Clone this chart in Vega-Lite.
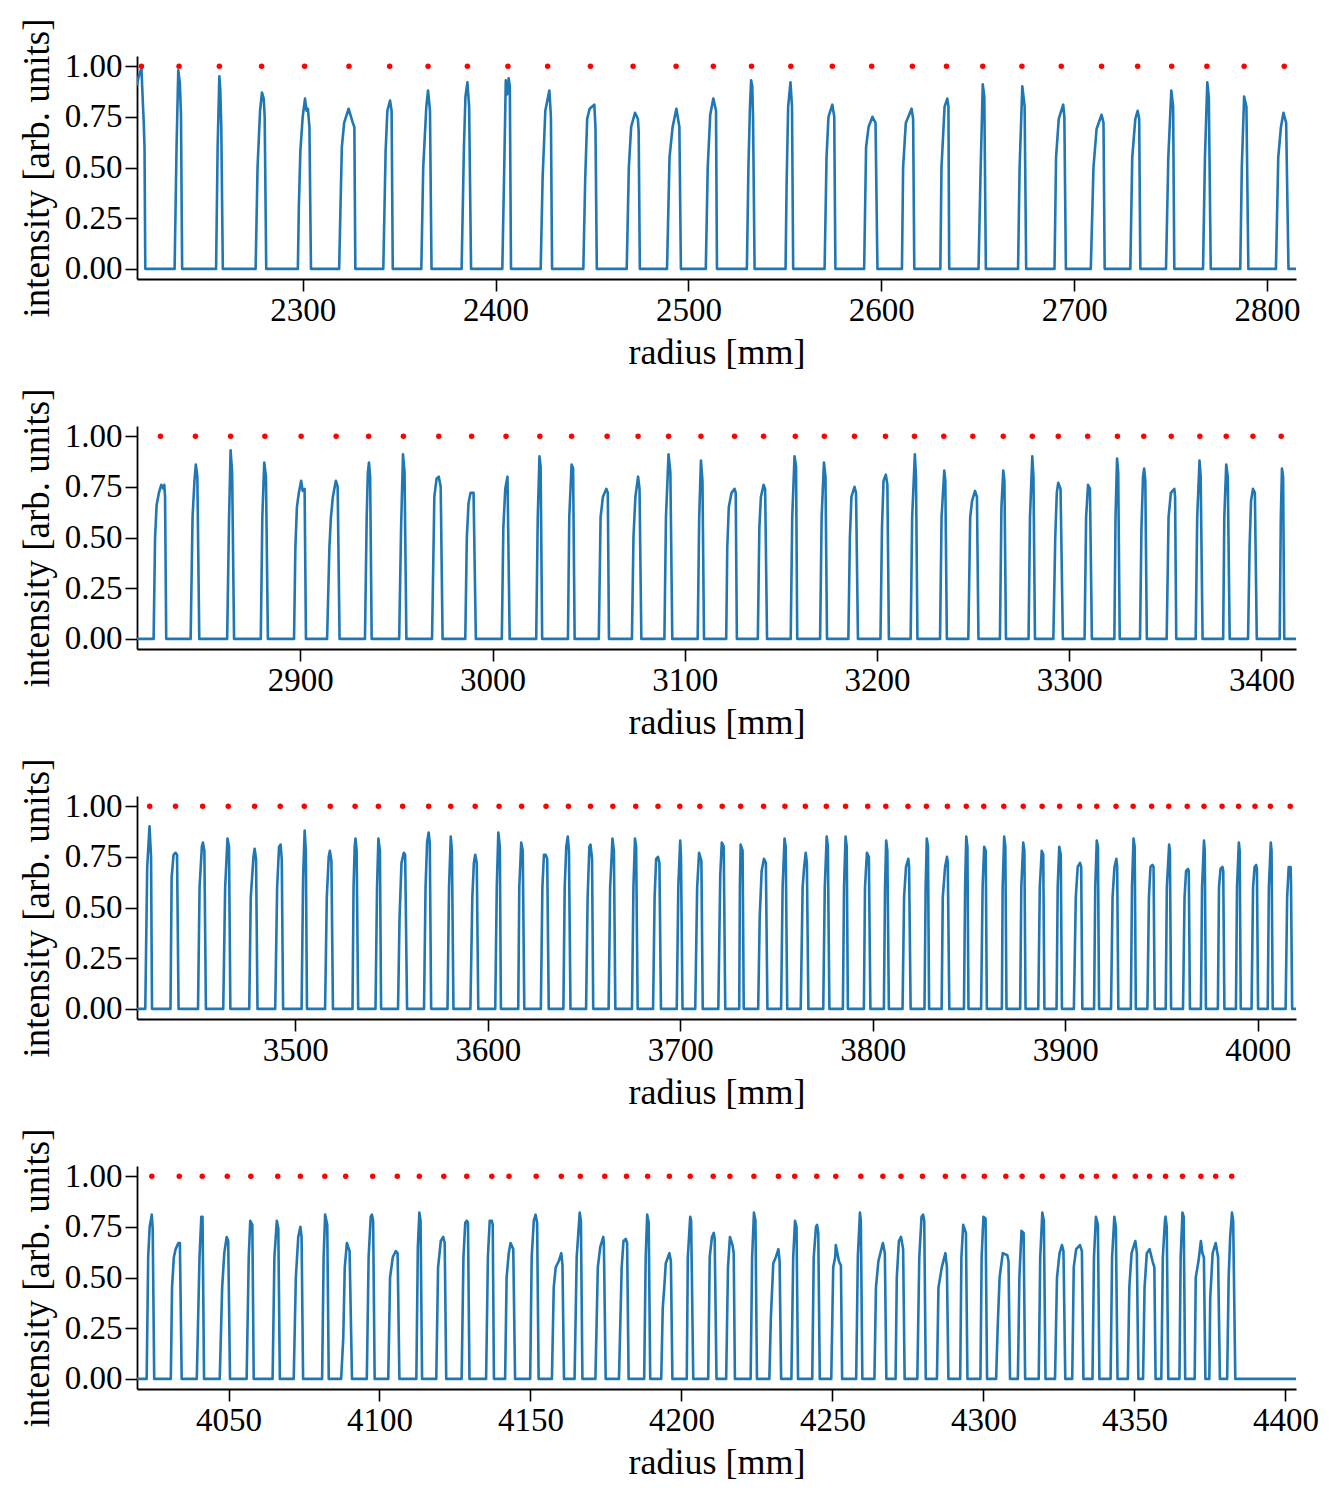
{
  "$schema": "https://vega.github.io/schema/vega-lite/v6.json",
  "background": "white",
  "padding": {"left": 18, "top": 17, "right": 10, "bottom": 10},
  "spacing": 147,
  "bounds": "flush",
  "config": {
    "view": {"stroke": null},
    "font": "Liberation Serif",
    "axis": {
      "labelFont": "Liberation Serif",
      "titleFont": "Liberation Serif",
      "labelFontSize": 33,
      "titleFontSize": 36,
      "titleFontWeight": "normal",
      "labelColor": "black",
      "titleColor": "black",
      "domainColor": "black",
      "tickColor": "black",
      "domainWidth": 1.8,
      "tickWidth": 1.6,
      "tickSize": 12,
      "grid": false,
      "labelFlush": false,
      "labelOverlap": false,
      "labelPadding": 3
    },
    "axisX": {"titlePadding": 8},
    "axisY": {"titlePadding": 8, "titleFontSize": 37}
  },
  "datasets": {
    "line1": [
      {"r":2214.1,"v":0.91},{"r":2215.0,"v":0.95},{"r":2216.4,"v":0.99},{"r":2217.0,"v":0.85},{"r":2217.6,"v":0.72},{"r":2218.0,"v":0.6},{"r":2218.4,"v":0},
      {"r":2233.6,"v":0},{"r":2234.6,"v":0.6},{"r":2235.5,"v":0.98},{"r":2236.3,"v":0.92},{"r":2236.9,"v":0.76},{"r":2237.5,"v":0},
      {"r":2255.1,"v":0},{"r":2255.9,"v":0.6},{"r":2256.8,"v":0.95},{"r":2257.3,"v":0.88},{"r":2257.8,"v":0.7},{"r":2258.6,"v":0},
      {"r":2275.6,"v":0},{"r":2276.6,"v":0.5},{"r":2277.9,"v":0.78},{"r":2278.9,"v":0.87},{"r":2279.8,"v":0.84},{"r":2280.3,"v":0.75},{"r":2281.1,"v":0},
      {"r":2297.5,"v":0},{"r":2298.0,"v":0.3},{"r":2298.8,"v":0.58},{"r":2300.0,"v":0.75},{"r":2301.2,"v":0.84},{"r":2302.0,"v":0.78},{"r":2302.7,"v":0.79},{"r":2303.5,"v":0.7},{"r":2304.3,"v":0},
      {"r":2318.9,"v":0},{"r":2320.3,"v":0.6},{"r":2321.5,"v":0.72},{"r":2323.8,"v":0.79},{"r":2326.0,"v":0.72},{"r":2326.8,"v":0.7},{"r":2327.3,"v":0},
      {"r":2341.8,"v":0},{"r":2343.0,"v":0.58},{"r":2343.9,"v":0.78},{"r":2345.3,"v":0.83},{"r":2346.1,"v":0.78},{"r":2346.7,"v":0},
      {"r":2361.5,"v":0},{"r":2362.5,"v":0.5},{"r":2364.1,"v":0.8},{"r":2365.0,"v":0.88},{"r":2366.0,"v":0.78},{"r":2366.8,"v":0},
      {"r":2382.4,"v":0},{"r":2383.6,"v":0.6},{"r":2384.4,"v":0.85},{"r":2385.4,"v":0.92},{"r":2386.3,"v":0.8},{"r":2387.3,"v":0},
      {"r":2403.5,"v":0},{"r":2404.5,"v":0.5},{"r":2405.3,"v":0.93},{"r":2406.0,"v":0.86},{"r":2406.8,"v":0.94},{"r":2407.4,"v":0.9},{"r":2408.0,"v":0},
      {"r":2423.4,"v":0},{"r":2424.4,"v":0.45},{"r":2425.8,"v":0.78},{"r":2427.9,"v":0.88},{"r":2428.7,"v":0.75},{"r":2429.3,"v":0},
      {"r":2445.5,"v":0},{"r":2446.5,"v":0.45},{"r":2447.5,"v":0.74},{"r":2448.8,"v":0.79},{"r":2451.2,"v":0.81},{"r":2451.8,"v":0.7},{"r":2452.5,"v":0},
      {"r":2468.0,"v":0},{"r":2469.1,"v":0.5},{"r":2470.3,"v":0.7},{"r":2472.3,"v":0.77},{"r":2473.8,"v":0.74},{"r":2474.2,"v":0.68},{"r":2474.8,"v":0},
      {"r":2488.9,"v":0},{"r":2490.2,"v":0.55},{"r":2491.8,"v":0.7},{"r":2493.75,"v":0.79},{"r":2495.3,"v":0.7},{"r":2496.1,"v":0},
      {"r":2509.0,"v":0},{"r":2510.0,"v":0.5},{"r":2511.3,"v":0.76},{"r":2512.9,"v":0.84},{"r":2514.3,"v":0.78},{"r":2514.8,"v":0},
      {"r":2530.3,"v":0},{"r":2531.1,"v":0.5},{"r":2531.9,"v":0.8},{"r":2532.5,"v":0.93},{"r":2533.1,"v":0.9},{"r":2533.5,"v":0.75},{"r":2534.3,"v":0},
      {"r":2550.35,"v":0},{"r":2550.9,"v":0.42},{"r":2551.7,"v":0.8},{"r":2552.9,"v":0.92},{"r":2553.7,"v":0.8},{"r":2554.3,"v":0},
      {"r":2570.6,"v":0},{"r":2571.6,"v":0.55},{"r":2572.6,"v":0.75},{"r":2574.6,"v":0.81},{"r":2575.6,"v":0.75},{"r":2576.2,"v":0},
      {"r":2591.1,"v":0},{"r":2592.1,"v":0.6},{"r":2593.4,"v":0.7},{"r":2595.4,"v":0.75},{"r":2597.0,"v":0.72},{"r":2598.0,"v":0},
      {"r":2610.7,"v":0},{"r":2611.3,"v":0.5},{"r":2612.7,"v":0.72},{"r":2615.7,"v":0.79},{"r":2616.5,"v":0.74},{"r":2617.1,"v":0},
      {"r":2630.6,"v":0},{"r":2631.2,"v":0.5},{"r":2632.8,"v":0.8},{"r":2634.2,"v":0.84},{"r":2634.8,"v":0.8},{"r":2635.2,"v":0},
      {"r":2650.4,"v":0},{"r":2651.4,"v":0.45},{"r":2652.6,"v":0.91},{"r":2653.4,"v":0.85},{"r":2654.2,"v":0},
      {"r":2670.9,"v":0},{"r":2671.7,"v":0.5},{"r":2673.1,"v":0.9},{"r":2674.3,"v":0.8},{"r":2675.1,"v":0},
      {"r":2689.8,"v":0},{"r":2690.6,"v":0.55},{"r":2692.0,"v":0.74},{"r":2694.3,"v":0.81},{"r":2694.9,"v":0.75},{"r":2695.7,"v":0},
      {"r":2708.6,"v":0},{"r":2710.0,"v":0.5},{"r":2711.6,"v":0.69},{"r":2714.2,"v":0.76},{"r":2715.2,"v":0.72},{"r":2715.8,"v":0},
      {"r":2729.1,"v":0},{"r":2730.1,"v":0.55},{"r":2731.7,"v":0.74},{"r":2732.9,"v":0.78},{"r":2733.7,"v":0.74},{"r":2734.3,"v":0},
      {"r":2747.6,"v":0},{"r":2748.8,"v":0.55},{"r":2750.35,"v":0.88},{"r":2751.3,"v":0.8},{"r":2751.9,"v":0},
      {"r":2766.8,"v":0},{"r":2767.8,"v":0.55},{"r":2769.0,"v":0.92},{"r":2769.8,"v":0.85},{"r":2770.8,"v":0},
      {"r":2786.1,"v":0},{"r":2786.9,"v":0.5},{"r":2788.1,"v":0.85},{"r":2789.3,"v":0.8},{"r":2790.3,"v":0},
      {"r":2804.6,"v":0},{"r":2805.8,"v":0.55},{"r":2807.2,"v":0.7},{"r":2808.5,"v":0.77},{"r":2809.9,"v":0.72},{"r":2811.1,"v":0},
      {"r":2815.0,"v":0}
    ],
    "peak1": [
      {"r":2216.4},{"r":2235.9},{"r":2256.8},{"r":2278.7},{"r":2301.0},{"r":2324.0},{"r":2345.1},{"r":2365.0},{"r":2385.4},{"r":2406.4},
      {"r":2427.0},{"r":2449.2},{"r":2471.3},{"r":2493.6},{"r":2512.9},{"r":2532.7},{"r":2553.1},{"r":2574.6},{"r":2595.0},{"r":2616.1},
      {"r":2633.8},{"r":2652.6},{"r":2672.9},{"r":2693.3},{"r":2714.2},{"r":2732.9},{"r":2750.55},{"r":2768.8},{"r":2788.1},{"r":2808.9}
    ],
    "line2": [
      {"r":2815.0,"v":0},
      {"r":2823.65,"v":0},{"r":2824.4,"v":0.5},{"r":2825.2,"v":0.66},{"r":2826.4,"v":0.72},{"r":2827.6,"v":0.76},{"r":2828.8,"v":0.74},{"r":2829.2,"v":0.76},{"r":2829.6,"v":0.7},{"r":2830.2,"v":0},
      {"r":2842.9,"v":0},{"r":2843.9,"v":0.6},{"r":2844.9,"v":0.78},{"r":2845.6,"v":0.86},{"r":2846.4,"v":0.8},{"r":2847.4,"v":0},
      {"r":2861.9,"v":0},{"r":2862.9,"v":0.6},{"r":2863.7,"v":0.93},{"r":2864.5,"v":0.82},{"r":2865.5,"v":0},
      {"r":2879.4,"v":0},{"r":2880.2,"v":0.6},{"r":2881.2,"v":0.87},{"r":2882.1,"v":0.8},{"r":2883.1,"v":0},
      {"r":2896.7,"v":0},{"r":2897.4,"v":0.45},{"r":2898.2,"v":0.65},{"r":2899.2,"v":0.72},{"r":2900.4,"v":0.78},{"r":2901.2,"v":0.73},{"r":2902.2,"v":0.74},{"r":2902.9,"v":0},
      {"r":2913.9,"v":0},{"r":2915.1,"v":0.45},{"r":2915.9,"v":0.6},{"r":2916.9,"v":0.7},{"r":2918.45,"v":0.78},{"r":2919.4,"v":0.75},{"r":2920.4,"v":0},
      {"r":2933.6,"v":0},{"r":2934.5,"v":0.6},{"r":2935.1,"v":0.82},{"r":2935.7,"v":0.87},{"r":2936.3,"v":0.8},{"r":2937.1,"v":0},
      {"r":2951.4,"v":0},{"r":2952.4,"v":0.55},{"r":2953.4,"v":0.91},{"r":2954.2,"v":0.82},{"r":2955.15,"v":0},
      {"r":2968.5,"v":0},{"r":2969.7,"v":0.7},{"r":2970.85,"v":0.79},{"r":2972.0,"v":0.8},{"r":2973.0,"v":0.75},{"r":2974.0,"v":0},
      {"r":2985.8,"v":0},{"r":2986.6,"v":0.5},{"r":2987.5,"v":0.67},{"r":2988.5,"v":0.72},{"r":2990.1,"v":0.72},{"r":2991.3,"v":0},
      {"r":3004.8,"v":0},{"r":3005.6,"v":0.55},{"r":3006.6,"v":0.74},{"r":3007.75,"v":0.8},{"r":3008.9,"v":0},
      {"r":3022.7,"v":0},{"r":3023.5,"v":0.6},{"r":3024.4,"v":0.9},{"r":3025.0,"v":0.85},{"r":3025.8,"v":0},
      {"r":3039.2,"v":0},{"r":3039.9,"v":0.6},{"r":3041.1,"v":0.86},{"r":3041.9,"v":0.84},{"r":3042.7,"v":0},
      {"r":3055.25,"v":0},{"r":3056.2,"v":0.6},{"r":3057.4,"v":0.7},{"r":3059.2,"v":0.74},{"r":3059.95,"v":0.72},{"r":3060.55,"v":0},
      {"r":3072.5,"v":0},{"r":3073.3,"v":0.5},{"r":3074.3,"v":0.7},{"r":3075.7,"v":0.8},{"r":3076.45,"v":0.74},{"r":3077.4,"v":0},
      {"r":3089.4,"v":0},{"r":3090.2,"v":0.6},{"r":3091.55,"v":0.91},{"r":3092.5,"v":0.82},{"r":3093.5,"v":0},
      {"r":3106.7,"v":0},{"r":3107.5,"v":0.6},{"r":3108.4,"v":0.88},{"r":3109.2,"v":0.78},{"r":3110.0,"v":0},
      {"r":3121.55,"v":0},{"r":3122.1,"v":0.45},{"r":3122.9,"v":0.65},{"r":3124.3,"v":0.72},{"r":3125.9,"v":0.74},{"r":3126.5,"v":0.72},{"r":3127.1,"v":0},
      {"r":3138.0,"v":0},{"r":3138.8,"v":0.55},{"r":3139.6,"v":0.7},{"r":3141.0,"v":0.76},{"r":3141.8,"v":0.74},{"r":3142.8,"v":0},
      {"r":3155.1,"v":0},{"r":3155.9,"v":0.6},{"r":3157.1,"v":0.9},{"r":3157.9,"v":0.85},{"r":3158.5,"v":0},
      {"r":3170.4,"v":0},{"r":3171.2,"v":0.6},{"r":3172.4,"v":0.87},{"r":3173.2,"v":0.8},{"r":3174.0,"v":0},
      {"r":3185.1,"v":0},{"r":3185.9,"v":0.5},{"r":3186.7,"v":0.7},{"r":3188.3,"v":0.75},{"r":3189.1,"v":0.72},{"r":3190.1,"v":0},
      {"r":3201.8,"v":0},{"r":3202.6,"v":0.55},{"r":3203.4,"v":0.78},{"r":3204.6,"v":0.81},{"r":3205.4,"v":0.76},{"r":3206.2,"v":0},
      {"r":3217.5,"v":0},{"r":3218.3,"v":0.6},{"r":3219.7,"v":0.91},{"r":3220.3,"v":0.8},{"r":3221.05,"v":0},
      {"r":3232.8,"v":0},{"r":3233.6,"v":0.6},{"r":3235.0,"v":0.83},{"r":3235.55,"v":0.78},{"r":3236.35,"v":0},
      {"r":3247.5,"v":0},{"r":3248.5,"v":0.6},{"r":3249.45,"v":0.68},{"r":3251.0,"v":0.73},{"r":3252.0,"v":0.7},{"r":3252.8,"v":0},
      {"r":3263.95,"v":0},{"r":3264.75,"v":0.65},{"r":3265.7,"v":0.83},{"r":3266.3,"v":0.78},{"r":3267.1,"v":0},
      {"r":3278.85,"v":0},{"r":3279.6,"v":0.6},{"r":3280.8,"v":0.9},{"r":3281.4,"v":0.8},{"r":3282.2,"v":0},
      {"r":3291.75,"v":0},{"r":3292.75,"v":0.5},{"r":3293.55,"v":0.72},{"r":3294.3,"v":0.77},{"r":3295.5,"v":0.74},{"r":3296.7,"v":0},
      {"r":3308.0,"v":0},{"r":3308.8,"v":0.6},{"r":3309.8,"v":0.76},{"r":3310.8,"v":0.74},{"r":3311.8,"v":0},
      {"r":3323.5,"v":0},{"r":3324.1,"v":0.6},{"r":3324.9,"v":0.89},{"r":3325.5,"v":0.82},{"r":3326.3,"v":0},
      {"r":3336.85,"v":0},{"r":3337.6,"v":0.55},{"r":3338.4,"v":0.8},{"r":3339.0,"v":0.84},{"r":3339.6,"v":0.78},{"r":3340.4,"v":0},
      {"r":3350.7,"v":0},{"r":3351.7,"v":0.6},{"r":3352.9,"v":0.72},{"r":3354.7,"v":0.74},{"r":3355.1,"v":0.7},{"r":3355.7,"v":0},
      {"r":3365.8,"v":0},{"r":3366.6,"v":0.6},{"r":3367.8,"v":0.88},{"r":3368.4,"v":0.8},{"r":3369.4,"v":0},
      {"r":3380.1,"v":0},{"r":3380.7,"v":0.6},{"r":3381.7,"v":0.86},{"r":3382.5,"v":0.8},{"r":3383.5,"v":0},
      {"r":3393.05,"v":0},{"r":3393.85,"v":0.45},{"r":3394.6,"v":0.68},{"r":3395.6,"v":0.74},{"r":3396.6,"v":0.72},{"r":3397.6,"v":0},
      {"r":3409.5,"v":0},{"r":3410.1,"v":0.6},{"r":3410.7,"v":0.84},{"r":3411.3,"v":0.8},{"r":3411.9,"v":0},
      {"r":3418.0,"v":0}
    ],
    "peak2": [
      {"r":2827.2},{"r":2845.4},{"r":2863.7},{"r":2881.55},{"r":2900.4},{"r":2918.6},{"r":2935.5},{"r":2953.6},{"r":2972.0},{"r":2989.1},
      {"r":3007.0},{"r":3024.6},{"r":3041.1},{"r":3059.6},{"r":3075.7},{"r":3091.55},{"r":3108.4},{"r":3125.9},{"r":3141.0},{"r":3157.5},
      {"r":3172.6},{"r":3188.3},{"r":3204.4},{"r":3219.5},{"r":3234.75},{"r":3249.85},{"r":3265.7},{"r":3280.8},{"r":3294.3},{"r":3309.6},
      {"r":3325.1},{"r":3338.8},{"r":3353.1},{"r":3368.0},{"r":3381.7},{"r":3395.6},{"r":3410.3}
    ],
    "line3": [
      {"r":3417.8,"v":0},
      {"r":3422.1,"v":0},{"r":3423.1,"v":0.7},{"r":3424.3,"v":0.9},{"r":3425.1,"v":0.75},{"r":3425.6,"v":0},
      {"r":3435.2,"v":0},{"r":3435.8,"v":0.65},{"r":3436.8,"v":0.76},{"r":3437.8,"v":0.77},{"r":3438.6,"v":0.76},{"r":3439.4,"v":0},
      {"r":3449.5,"v":0},{"r":3450.3,"v":0.6},{"r":3451.5,"v":0.8},{"r":3452.05,"v":0.82},{"r":3452.8,"v":0.78},{"r":3453.6,"v":0},
      {"r":3462.6,"v":0},{"r":3463.6,"v":0.6},{"r":3464.8,"v":0.84},{"r":3465.6,"v":0.8},{"r":3466.3,"v":0},
      {"r":3476.1,"v":0},{"r":3476.9,"v":0.55},{"r":3478.3,"v":0.75},{"r":3478.9,"v":0.79},{"r":3479.65,"v":0.74},{"r":3480.4,"v":0},
      {"r":3489.6,"v":0},{"r":3490.6,"v":0.6},{"r":3491.6,"v":0.8},{"r":3492.4,"v":0.81},{"r":3493.0,"v":0.74},{"r":3493.7,"v":0},
      {"r":3503.3,"v":0},{"r":3504.1,"v":0.65},{"r":3504.9,"v":0.88},{"r":3505.5,"v":0.78},{"r":3506.1,"v":0},
      {"r":3515.5,"v":0},{"r":3516.4,"v":0.55},{"r":3517.4,"v":0.75},{"r":3518.0,"v":0.78},{"r":3518.8,"v":0.73},{"r":3519.6,"v":0},
      {"r":3529.75,"v":0},{"r":3530.3,"v":0.6},{"r":3530.9,"v":0.8},{"r":3531.3,"v":0.84},{"r":3531.9,"v":0.78},{"r":3532.7,"v":0},
      {"r":3541.7,"v":0},{"r":3542.5,"v":0.6},{"r":3543.2,"v":0.84},{"r":3544.0,"v":0.78},{"r":3544.6,"v":0},
      {"r":3553.4,"v":0},{"r":3554.2,"v":0.45},{"r":3555.2,"v":0.72},{"r":3556.4,"v":0.77},{"r":3557.1,"v":0.76},{"r":3558.1,"v":0},
      {"r":3566.9,"v":0},{"r":3567.7,"v":0.6},{"r":3568.5,"v":0.82},{"r":3569.3,"v":0.87},{"r":3569.9,"v":0.82},{"r":3570.6,"v":0},
      {"r":3579.1,"v":0},{"r":3579.9,"v":0.6},{"r":3580.8,"v":0.85},{"r":3581.4,"v":0.78},{"r":3582.2,"v":0},
      {"r":3591.0,"v":0},{"r":3592.0,"v":0.55},{"r":3592.8,"v":0.72},{"r":3593.5,"v":0.76},{"r":3594.3,"v":0.72},{"r":3595.1,"v":0},
      {"r":3603.9,"v":0},{"r":3604.7,"v":0.6},{"r":3605.5,"v":0.87},{"r":3606.3,"v":0.8},{"r":3606.85,"v":0},
      {"r":3615.85,"v":0},{"r":3616.4,"v":0.6},{"r":3617.4,"v":0.82},{"r":3618.2,"v":0.78},{"r":3619.0,"v":0},
      {"r":3627.6,"v":0},{"r":3628.4,"v":0.6},{"r":3629.2,"v":0.76},{"r":3630.1,"v":0.76},{"r":3630.9,"v":0.74},{"r":3631.7,"v":0},
      {"r":3639.3,"v":0},{"r":3640.0,"v":0.6},{"r":3640.8,"v":0.8},{"r":3641.6,"v":0.85},{"r":3642.2,"v":0.78},{"r":3643.0,"v":0},
      {"r":3651.1,"v":0},{"r":3651.9,"v":0.55},{"r":3652.8,"v":0.8},{"r":3653.4,"v":0.81},{"r":3654.2,"v":0.74},{"r":3654.8,"v":0},
      {"r":3662.8,"v":0},{"r":3663.6,"v":0.6},{"r":3664.8,"v":0.84},{"r":3665.55,"v":0.78},{"r":3666.3,"v":0},
      {"r":3674.95,"v":0},{"r":3675.7,"v":0.6},{"r":3676.5,"v":0.84},{"r":3677.1,"v":0.8},{"r":3677.9,"v":0},
      {"r":3685.9,"v":0},{"r":3686.7,"v":0.55},{"r":3687.5,"v":0.74},{"r":3688.45,"v":0.75},{"r":3689.2,"v":0.72},{"r":3690.0,"v":0},
      {"r":3698.2,"v":0},{"r":3699.0,"v":0.6},{"r":3700.0,"v":0.83},{"r":3700.4,"v":0.75},{"r":3701.2,"v":0},
      {"r":3707.8,"v":0},{"r":3708.8,"v":0.6},{"r":3709.8,"v":0.77},{"r":3711.0,"v":0.73},{"r":3711.7,"v":0},
      {"r":3719.8,"v":0},{"r":3720.8,"v":0.66},{"r":3721.6,"v":0.82},{"r":3722.6,"v":0.8},{"r":3723.4,"v":0},
      {"r":3730.65,"v":0},{"r":3731.0,"v":0.6},{"r":3731.4,"v":0.81},{"r":3732.4,"v":0.78},{"r":3733.0,"v":0},
      {"r":3740.5,"v":0},{"r":3741.3,"v":0.45},{"r":3742.3,"v":0.68},{"r":3743.5,"v":0.74},{"r":3744.5,"v":0.72},{"r":3745.3,"v":0},
      {"r":3752.4,"v":0},{"r":3753.2,"v":0.6},{"r":3754.2,"v":0.84},{"r":3754.8,"v":0.8},{"r":3755.6,"v":0},
      {"r":3762.6,"v":0},{"r":3763.6,"v":0.6},{"r":3764.4,"v":0.7},{"r":3765.2,"v":0.77},{"r":3765.8,"v":0.72},{"r":3766.6,"v":0},
      {"r":3774.3,"v":0},{"r":3775.1,"v":0.6},{"r":3776.1,"v":0.85},{"r":3776.7,"v":0.8},{"r":3777.5,"v":0},
      {"r":3784.5,"v":0},{"r":3785.1,"v":0.6},{"r":3785.9,"v":0.85},{"r":3786.5,"v":0.8},{"r":3787.1,"v":0},
      {"r":3795.4,"v":0},{"r":3796.0,"v":0.6},{"r":3797.0,"v":0.77},{"r":3798.0,"v":0.75},{"r":3798.8,"v":0},
      {"r":3805.8,"v":0},{"r":3806.4,"v":0.6},{"r":3807.0,"v":0.83},{"r":3807.6,"v":0.78},{"r":3808.4,"v":0},
      {"r":3815.5,"v":0},{"r":3816.3,"v":0.55},{"r":3817.3,"v":0.7},{"r":3818.5,"v":0.74},{"r":3818.9,"v":0.7},{"r":3819.7,"v":0},
      {"r":3826.9,"v":0},{"r":3827.5,"v":0.6},{"r":3828.1,"v":0.84},{"r":3828.7,"v":0.8},{"r":3829.3,"v":0},
      {"r":3835.8,"v":0},{"r":3836.4,"v":0.55},{"r":3837.6,"v":0.7},{"r":3838.6,"v":0.75},{"r":3839.0,"v":0.72},{"r":3839.8,"v":0},
      {"r":3847.4,"v":0},{"r":3848.0,"v":0.6},{"r":3848.6,"v":0.85},{"r":3849.2,"v":0.8},{"r":3849.75,"v":0},
      {"r":3856.3,"v":0},{"r":3857.1,"v":0.6},{"r":3857.9,"v":0.8},{"r":3858.7,"v":0.78},{"r":3859.3,"v":0},
      {"r":3867.1,"v":0},{"r":3867.5,"v":0.6},{"r":3868.3,"v":0.85},{"r":3868.9,"v":0.8},{"r":3869.5,"v":0},
      {"r":3876.6,"v":0},{"r":3877.2,"v":0.6},{"r":3878.2,"v":0.82},{"r":3878.8,"v":0.78},{"r":3879.4,"v":0},
      {"r":3886.0,"v":0},{"r":3886.8,"v":0.6},{"r":3887.8,"v":0.78},{"r":3888.6,"v":0.76},{"r":3889.2,"v":0},
      {"r":3895.5,"v":0},{"r":3896.1,"v":0.6},{"r":3896.9,"v":0.8},{"r":3897.7,"v":0.76},{"r":3898.3,"v":0},
      {"r":3904.5,"v":0},{"r":3905.5,"v":0.55},{"r":3906.5,"v":0.7},{"r":3907.7,"v":0.72},{"r":3908.3,"v":0.7},{"r":3908.9,"v":0},
      {"r":3915.0,"v":0},{"r":3915.6,"v":0.6},{"r":3916.4,"v":0.83},{"r":3917.0,"v":0.8},{"r":3917.6,"v":0},
      {"r":3923.8,"v":0},{"r":3924.6,"v":0.55},{"r":3925.6,"v":0.7},{"r":3926.6,"v":0.74},{"r":3927.0,"v":0.7},{"r":3927.6,"v":0},
      {"r":3934.1,"v":0},{"r":3934.7,"v":0.6},{"r":3935.5,"v":0.84},{"r":3936.1,"v":0.8},{"r":3936.7,"v":0},
      {"r":3942.7,"v":0},{"r":3943.5,"v":0.55},{"r":3944.3,"v":0.7},{"r":3945.3,"v":0.71},{"r":3945.9,"v":0.7},{"r":3946.5,"v":0},
      {"r":3952.2,"v":0},{"r":3952.8,"v":0.6},{"r":3954.0,"v":0.81},{"r":3954.4,"v":0.78},{"r":3955.0,"v":0},
      {"r":3961.2,"v":0},{"r":3962.0,"v":0.55},{"r":3962.8,"v":0.68},{"r":3963.8,"v":0.69},{"r":3964.2,"v":0.68},{"r":3964.8,"v":0},
      {"r":3970.5,"v":0},{"r":3971.1,"v":0.6},{"r":3972.1,"v":0.83},{"r":3972.5,"v":0.78},{"r":3973.1,"v":0},
      {"r":3979.3,"v":0},{"r":3979.9,"v":0.6},{"r":3980.7,"v":0.69},{"r":3981.7,"v":0.7},{"r":3982.1,"v":0.68},{"r":3982.7,"v":0},
      {"r":3988.7,"v":0},{"r":3989.25,"v":0.6},{"r":3990.2,"v":0.82},{"r":3990.65,"v":0.78},{"r":3991.2,"v":0},
      {"r":3996.8,"v":0},{"r":3997.6,"v":0.6},{"r":3998.4,"v":0.7},{"r":3999.2,"v":0.71},{"r":3999.6,"v":0.69},{"r":4000.2,"v":0},
      {"r":4005.2,"v":0},{"r":4005.8,"v":0.6},{"r":4006.8,"v":0.82},{"r":4007.2,"v":0.78},{"r":4007.8,"v":0},
      {"r":4014.5,"v":0},{"r":4015.3,"v":0.55},{"r":4016.1,"v":0.7},{"r":4017.1,"v":0.7},{"r":4017.3,"v":0.62},{"r":4017.9,"v":0},
      {"r":4019.9,"v":0}
    ],
    "peak3": [
      {"r":3424.4},{"r":3437.8},{"r":3451.9},{"r":3465.2},{"r":3478.9},{"r":3492.2},{"r":3504.7},{"r":3518.2},{"r":3531.1},{"r":3543.2},
      {"r":3555.8},{"r":3569.3},{"r":3580.8},{"r":3593.5},{"r":3605.9},{"r":3617.6},{"r":3630.3},{"r":3641.9},{"r":3653.4},{"r":3665.0},
      {"r":3676.9},{"r":3688.45},{"r":3699.8},{"r":3710.2},{"r":3721.8},{"r":3731.4},{"r":3743.3},{"r":3754.4},{"r":3765.0},{"r":3775.9},
      {"r":3785.9},{"r":3797.4},{"r":3806.8},{"r":3818.3},{"r":3827.9},{"r":3838.8},{"r":3848.6},{"r":3857.7},{"r":3868.1},{"r":3878.2},
      {"r":3888.0},{"r":3897.1},{"r":3907.5},{"r":3916.4},{"r":3926.4},{"r":3935.3},{"r":3944.9},{"r":3953.8},{"r":3963.4},{"r":3972.1},
      {"r":3981.5},{"r":3990.05},{"r":3998.6},{"r":4006.6},{"r":4016.9}
    ],
    "line4": [
      {"r":4019.7,"v":0},
      {"r":4022.9,"v":0},{"r":4023.4,"v":0.6},{"r":4023.9,"v":0.75},{"r":4024.6,"v":0.81},{"r":4024.9,"v":0.74},{"r":4025.4,"v":0},
      {"r":4030.9,"v":0},{"r":4031.3,"v":0.45},{"r":4031.9,"v":0.6},{"r":4032.5,"v":0.64},{"r":4033.4,"v":0.67},{"r":4033.9,"v":0.67},{"r":4034.5,"v":0},
      {"r":4039.5,"v":0},{"r":4040.4,"v":0.6},{"r":4041.0,"v":0.8},{"r":4041.4,"v":0.8},{"r":4041.9,"v":0},
      {"r":4047.1,"v":0},{"r":4047.9,"v":0.45},{"r":4048.6,"v":0.62},{"r":4049.4,"v":0.7},{"r":4049.9,"v":0.68},{"r":4050.5,"v":0},
      {"r":4056.0,"v":0},{"r":4056.7,"v":0.6},{"r":4057.2,"v":0.78},{"r":4057.9,"v":0.76},{"r":4058.35,"v":0},
      {"r":4064.6,"v":0},{"r":4065.2,"v":0.6},{"r":4066.0,"v":0.78},{"r":4066.5,"v":0.74},{"r":4067.0,"v":0},
      {"r":4071.6,"v":0},{"r":4072.3,"v":0.5},{"r":4073.1,"v":0.7},{"r":4073.8,"v":0.75},{"r":4074.2,"v":0.7},{"r":4074.7,"v":0},
      {"r":4081.0,"v":0},{"r":4081.5,"v":0.6},{"r":4082.0,"v":0.81},{"r":4082.7,"v":0.76},{"r":4083.2,"v":0},
      {"r":4087.3,"v":0},{"r":4088.0,"v":0.2},{"r":4088.5,"v":0.55},{"r":4089.2,"v":0.67},{"r":4090.1,"v":0.63},{"r":4090.9,"v":0},
      {"r":4095.8,"v":0},{"r":4096.4,"v":0.6},{"r":4097.1,"v":0.8},{"r":4097.5,"v":0.81},{"r":4097.9,"v":0.78},{"r":4098.4,"v":0},
      {"r":4102.9,"v":0},{"r":4103.5,"v":0.5},{"r":4104.4,"v":0.6},{"r":4105.4,"v":0.63},{"r":4106.0,"v":0.62},{"r":4106.6,"v":0},
      {"r":4112.2,"v":0},{"r":4112.7,"v":0.65},{"r":4113.2,"v":0.82},{"r":4113.6,"v":0.78},{"r":4114.1,"v":0},
      {"r":4118.8,"v":0},{"r":4119.4,"v":0.55},{"r":4120.3,"v":0.68},{"r":4121.1,"v":0.7},{"r":4121.6,"v":0.67},{"r":4122.1,"v":0},
      {"r":4127.2,"v":0},{"r":4127.8,"v":0.6},{"r":4128.4,"v":0.77},{"r":4128.9,"v":0.78},{"r":4129.3,"v":0.77},{"r":4129.8,"v":0},
      {"r":4135.3,"v":0},{"r":4135.9,"v":0.6},{"r":4136.5,"v":0.78},{"r":4137.2,"v":0.78},{"r":4137.5,"v":0.76},{"r":4137.9,"v":0},
      {"r":4141.6,"v":0},{"r":4142.1,"v":0.5},{"r":4142.8,"v":0.62},{"r":4143.4,"v":0.67},{"r":4144.3,"v":0.64},{"r":4144.9,"v":0},
      {"r":4149.9,"v":0},{"r":4150.4,"v":0.6},{"r":4151.1,"v":0.78},{"r":4151.7,"v":0.81},{"r":4152.2,"v":0.77},{"r":4152.7,"v":0},
      {"r":4157.1,"v":0},{"r":4157.7,"v":0.45},{"r":4158.35,"v":0.55},{"r":4159.35,"v":0.58},{"r":4160.2,"v":0.62},{"r":4160.6,"v":0.56},{"r":4161.1,"v":0},
      {"r":4164.6,"v":0},{"r":4165.3,"v":0.6},{"r":4166.3,"v":0.82},{"r":4166.7,"v":0.78},{"r":4167.2,"v":0},
      {"r":4171.5,"v":0},{"r":4172.3,"v":0.55},{"r":4173.1,"v":0.65},{"r":4174.1,"v":0.7},{"r":4174.3,"v":0.67},{"r":4174.9,"v":0},
      {"r":4179.3,"v":0},{"r":4180.2,"v":0.55},{"r":4180.8,"v":0.68},{"r":4181.55,"v":0.69},{"r":4182.0,"v":0.67},{"r":4182.5,"v":0},
      {"r":4187.65,"v":0},{"r":4188.15,"v":0.6},{"r":4188.65,"v":0.81},{"r":4189.15,"v":0.77},{"r":4189.65,"v":0},
      {"r":4193.3,"v":0},{"r":4193.8,"v":0.35},{"r":4194.3,"v":0.45},{"r":4194.8,"v":0.57},{"r":4196.0,"v":0.62},{"r":4196.5,"v":0.58},{"r":4197.0,"v":0},
      {"r":4201.75,"v":0},{"r":4202.1,"v":0.6},{"r":4202.9,"v":0.8},{"r":4203.2,"v":0.78},{"r":4203.9,"v":0},
      {"r":4208.85,"v":0},{"r":4209.35,"v":0.6},{"r":4210.1,"v":0.7},{"r":4210.7,"v":0.72},{"r":4211.0,"v":0.69},{"r":4211.6,"v":0},
      {"r":4214.8,"v":0},{"r":4215.4,"v":0.55},{"r":4216.05,"v":0.7},{"r":4216.9,"v":0.66},{"r":4217.3,"v":0.62},{"r":4217.7,"v":0},
      {"r":4222.9,"v":0},{"r":4223.4,"v":0.6},{"r":4224.0,"v":0.82},{"r":4224.5,"v":0.78},{"r":4225.0,"v":0},
      {"r":4229.1,"v":0},{"r":4229.6,"v":0.3},{"r":4230.4,"v":0.57},{"r":4231.25,"v":0.6},{"r":4232.1,"v":0.64},{"r":4232.5,"v":0.58},{"r":4233.0,"v":0},
      {"r":4236.4,"v":0},{"r":4237.0,"v":0.6},{"r":4237.6,"v":0.78},{"r":4238.1,"v":0.75},{"r":4238.6,"v":0},
      {"r":4243.3,"v":0},{"r":4243.8,"v":0.6},{"r":4244.55,"v":0.75},{"r":4244.9,"v":0.76},{"r":4245.3,"v":0.72},{"r":4245.8,"v":0},
      {"r":4249.6,"v":0},{"r":4250.25,"v":0.55},{"r":4250.9,"v":0.6},{"r":4251.1,"v":0.66},{"r":4252.15,"v":0.58},{"r":4252.8,"v":0.56},{"r":4253.2,"v":0},
      {"r":4257.85,"v":0},{"r":4258.4,"v":0.6},{"r":4259.1,"v":0.82},{"r":4259.4,"v":0.78},{"r":4259.9,"v":0},
      {"r":4263.9,"v":0},{"r":4264.4,"v":0.45},{"r":4265.2,"v":0.58},{"r":4266.7,"v":0.67},{"r":4267.35,"v":0.62},{"r":4267.85,"v":0},
      {"r":4270.9,"v":0},{"r":4271.3,"v":0.5},{"r":4272.0,"v":0.68},{"r":4272.7,"v":0.7},{"r":4273.4,"v":0.64},{"r":4273.9,"v":0},
      {"r":4278.1,"v":0},{"r":4278.75,"v":0.6},{"r":4279.5,"v":0.8},{"r":4280.0,"v":0.81},{"r":4280.4,"v":0.78},{"r":4280.9,"v":0},
      {"r":4284.6,"v":0},{"r":4285.1,"v":0.45},{"r":4286.2,"v":0.55},{"r":4287.4,"v":0.62},{"r":4287.9,"v":0.55},{"r":4288.4,"v":0},
      {"r":4292.3,"v":0},{"r":4292.7,"v":0.6},{"r":4293.3,"v":0.76},{"r":4294.2,"v":0.72},{"r":4294.7,"v":0},
      {"r":4299.0,"v":0},{"r":4299.4,"v":0.6},{"r":4300.0,"v":0.8},{"r":4300.7,"v":0.79},{"r":4301.2,"v":0},
      {"r":4304.2,"v":0},{"r":4304.7,"v":0.25},{"r":4305.35,"v":0.5},{"r":4306.4,"v":0.62},{"r":4307.9,"v":0.61},{"r":4308.3,"v":0.58},{"r":4308.8,"v":0},
      {"r":4311.4,"v":0},{"r":4311.9,"v":0.5},{"r":4312.6,"v":0.73},{"r":4313.3,"v":0.72},{"r":4313.8,"v":0},
      {"r":4318.3,"v":0},{"r":4318.8,"v":0.6},{"r":4319.5,"v":0.82},{"r":4320.0,"v":0.78},{"r":4320.55,"v":0},
      {"r":4323.7,"v":0},{"r":4324.35,"v":0.5},{"r":4325.2,"v":0.62},{"r":4326.0,"v":0.66},{"r":4326.5,"v":0.63},{"r":4327.1,"v":0},
      {"r":4329.4,"v":0},{"r":4329.9,"v":0.55},{"r":4330.7,"v":0.64},{"r":4331.95,"v":0.66},{"r":4332.6,"v":0.63},{"r":4333.1,"v":0},
      {"r":4336.1,"v":0},{"r":4336.6,"v":0.6},{"r":4337.25,"v":0.8},{"r":4337.9,"v":0.76},{"r":4338.4,"v":0},
      {"r":4342.1,"v":0},{"r":4342.6,"v":0.6},{"r":4343.35,"v":0.8},{"r":4343.85,"v":0.75},{"r":4344.4,"v":0},
      {"r":4347.8,"v":0},{"r":4348.3,"v":0.45},{"r":4349.05,"v":0.62},{"r":4350.3,"v":0.68},{"r":4350.8,"v":0.62},{"r":4351.3,"v":0},
      {"r":4352.85,"v":0},{"r":4353.35,"v":0.45},{"r":4354.1,"v":0.62},{"r":4355.0,"v":0.64},{"r":4356.0,"v":0.58},{"r":4356.6,"v":0.55},{"r":4357.0,"v":0},
      {"r":4358.9,"v":0},{"r":4359.4,"v":0.6},{"r":4360.1,"v":0.78},{"r":4360.3,"v":0.8},{"r":4360.7,"v":0.75},{"r":4361.2,"v":0},
      {"r":4364.9,"v":0},{"r":4365.3,"v":0.6},{"r":4365.9,"v":0.82},{"r":4366.3,"v":0.8},{"r":4366.8,"v":0},
      {"r":4369.95,"v":0},{"r":4370.3,"v":0.5},{"r":4371.2,"v":0.58},{"r":4372.0,"v":0.68},{"r":4372.5,"v":0.62},{"r":4373.0,"v":0.6},{"r":4373.5,"v":0},
      {"r":4374.8,"v":0},{"r":4375.1,"v":0.4},{"r":4375.9,"v":0.62},{"r":4376.9,"v":0.67},{"r":4377.7,"v":0.6},{"r":4378.3,"v":0},
      {"r":4380.7,"v":0},{"r":4381.2,"v":0.5},{"r":4381.7,"v":0.7},{"r":4382.3,"v":0.82},{"r":4382.7,"v":0.78},{"r":4383.4,"v":0},
      {"r":4403.5,"v":0}
    ],
    "peak4": [
      {"r":4024.6},{"r":4033.7},{"r":4041.3},{"r":4049.6},{"r":4057.4},{"r":4066.3},{"r":4073.8},{"r":4081.9},{"r":4088.8},{"r":4097.75},
      {"r":4105.9},{"r":4113.2},{"r":4121.3},{"r":4128.9},{"r":4137.2},{"r":4142.9},{"r":4151.9},{"r":4160.2},{"r":4166.5},{"r":4174.6},
      {"r":4181.8},{"r":4188.8},{"r":4196.0},{"r":4202.9},{"r":4210.5},{"r":4216.05},{"r":4224.0},{"r":4232.1},{"r":4237.5},{"r":4244.8},
      {"r":4251.1},{"r":4259.4},{"r":4266.7},{"r":4272.7},{"r":4279.8},{"r":4287.4},{"r":4293.45},{"r":4300.3},{"r":4307.4},{"r":4312.8},
      {"r":4319.5},{"r":4326.25},{"r":4332.5},{"r":4337.4},{"r":4343.5},{"r":4350.3},{"r":4355.0},{"r":4360.3},{"r":4365.9},{"r":4372.0},
      {"r":4376.9},{"r":4382.2}
    ]
  },
  "vconcat": [
    {
      "width": 1159, "height": 223,
      "layer": [
        {"data": {"name": "line1"}, "mark": {"type": "line", "color": "#1f77b4", "strokeWidth": 2.6, "strokeJoin": "round", "strokeCap": "round", "clip": true},
         "encoding": {
           "x": {"field": "r", "type": "quantitative", "scale": {"domain": [2214.1, 2815], "nice": false, "zero": false},
                 "axis": {"values": [2300, 2400, 2500, 2600, 2700, 2800], "format": "d", "title": "radius [mm]"}},
           "y": {"field": "v", "type": "quantitative", "scale": {"domain": [-0.05, 1.05], "nice": false, "zero": false},
                 "axis": {"values": [0, 0.25, 0.5, 0.75, 1], "format": ".2f", "title": "intensity [arb. units]"}}}},
        {"data": {"name": "peak1"}, "mark": {"type": "circle", "color": "#ff0000", "size": 30, "opacity": 1},
         "encoding": {"x": {"field": "r", "type": "quantitative"}, "y": {"datum": 1}}}
      ]
    },
    {
      "width": 1159, "height": 223,
      "layer": [
        {"data": {"name": "line2"}, "mark": {"type": "line", "color": "#1f77b4", "strokeWidth": 2.6, "strokeJoin": "round", "strokeCap": "round", "clip": true},
         "encoding": {
           "x": {"field": "r", "type": "quantitative", "scale": {"domain": [2815, 3418], "nice": false, "zero": false},
                 "axis": {"values": [2900, 3000, 3100, 3200, 3300, 3400], "format": "d", "title": "radius [mm]"}},
           "y": {"field": "v", "type": "quantitative", "scale": {"domain": [-0.05, 1.05], "nice": false, "zero": false},
                 "axis": {"values": [0, 0.25, 0.5, 0.75, 1], "format": ".2f", "title": "intensity [arb. units]"}}}},
        {"data": {"name": "peak2"}, "mark": {"type": "circle", "color": "#ff0000", "size": 30, "opacity": 1},
         "encoding": {"x": {"field": "r", "type": "quantitative"}, "y": {"datum": 1}}}
      ]
    },
    {
      "width": 1159, "height": 223,
      "layer": [
        {"data": {"name": "line3"}, "mark": {"type": "line", "color": "#1f77b4", "strokeWidth": 2.6, "strokeJoin": "round", "strokeCap": "round", "clip": true},
         "encoding": {
           "x": {"field": "r", "type": "quantitative", "scale": {"domain": [3417.8, 4019.9], "nice": false, "zero": false},
                 "axis": {"values": [3500, 3600, 3700, 3800, 3900, 4000], "format": "d", "title": "radius [mm]"}},
           "y": {"field": "v", "type": "quantitative", "scale": {"domain": [-0.05, 1.05], "nice": false, "zero": false},
                 "axis": {"values": [0, 0.25, 0.5, 0.75, 1], "format": ".2f", "title": "intensity [arb. units]"}}}},
        {"data": {"name": "peak3"}, "mark": {"type": "circle", "color": "#ff0000", "size": 30, "opacity": 1},
         "encoding": {"x": {"field": "r", "type": "quantitative"}, "y": {"datum": 1}}}
      ]
    },
    {
      "width": 1159, "height": 223,
      "layer": [
        {"data": {"name": "line4"}, "mark": {"type": "line", "color": "#1f77b4", "strokeWidth": 2.6, "strokeJoin": "round", "strokeCap": "round", "clip": true},
         "encoding": {
           "x": {"field": "r", "type": "quantitative", "scale": {"domain": [4019.7, 4403.5], "nice": false, "zero": false},
                 "axis": {"values": [4050, 4100, 4150, 4200, 4250, 4300, 4350, 4400], "format": "d", "title": "radius [mm]"}},
           "y": {"field": "v", "type": "quantitative", "scale": {"domain": [-0.05, 1.05], "nice": false, "zero": false},
                 "axis": {"values": [0, 0.25, 0.5, 0.75, 1], "format": ".2f", "title": "intensity [arb. units]"}}}},
        {"data": {"name": "peak4"}, "mark": {"type": "circle", "color": "#ff0000", "size": 30, "opacity": 1},
         "encoding": {"x": {"field": "r", "type": "quantitative"}, "y": {"datum": 1}}}
      ]
    }
  ]
}
